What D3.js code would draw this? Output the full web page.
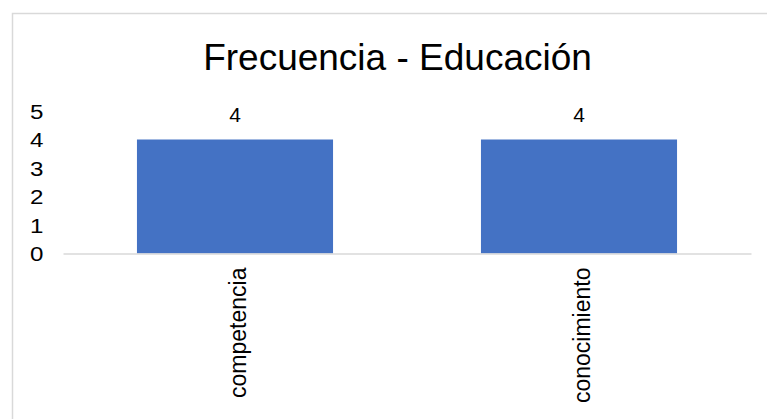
<!DOCTYPE html>
<html>
<head>
<meta charset="utf-8">
<script src="https://cdn.jsdelivr.net/npm/d3@7"></script>
<style>
  html, body { margin: 0; padding: 0; background: #fff; }
  svg { display: block; font-family: "Liberation Sans", Arial, sans-serif; }
</style>
</head>
<body>
<svg id="chart" width="767" height="419"></svg>
<script>
const title = "Frecuencia - Educación";
const categories = ["competencia", "conocimiento"];
const values = [4, 4];
const yTicks = [0, 1, 2, 3, 4, 5];

const svg = d3.select("#chart");

// chart frame
svg.append("rect")
  .attr("x", 12.5).attr("y", 13.5)
  .attr("width", 800).attr("height", 450)
  .attr("fill", "#fff").attr("stroke", "#d9d9d9").attr("stroke-width", 1.5);

const x = d3.scaleBand().domain(categories).range([63, 751])
  .paddingInner(0.43).paddingOuter(0.215);
const y = d3.scaleLinear().domain([0, 5]).range([253.5, 111]);

// title
svg.append("text")
  .attr("x", 397.5).attr("y", 70)
  .attr("text-anchor", "middle")
  .attr("font-size", 37)
  .attr("fill", "#000")
  .text(title);

// y axis labels
const yAxis = d3.axisLeft(y).tickValues(yTicks).tickSize(0).tickPadding(0).tickFormat(d3.format("d"));
const gy = svg.append("g").attr("transform", "translate(43.5,0)").call(yAxis);
gy.select(".domain").remove();
gy.selectAll("text").attr("font-size", 21).attr("fill", "#000")
  .attr("font-family", "'Liberation Sans', Arial, sans-serif")
  .attr("transform", "scale(1.15,1)").attr("dy", "0.34em");

// bars
svg.append("g").selectAll("rect").data(values).join("rect")
  .attr("x", (d, i) => x(categories[i]))
  .attr("y", d => y(d))
  .attr("width", x.bandwidth())
  .attr("height", d => y(0) - y(d))
  .attr("fill", "#4472c4");

// x axis baseline + labels
const xAxis = d3.axisBottom(x).tickSize(0).tickPadding(0);
const gx = svg.append("g").attr("transform", `translate(0,${y(0)})`).call(xAxis);
gx.select(".domain").attr("stroke", "#d9d9d9").attr("stroke-width", 1.5);
gx.selectAll(".tick text")
  .attr("font-size", 23).attr("fill", "#000")
  .attr("font-family", "'Liberation Sans', Arial, sans-serif")
  .attr("text-anchor", "end")
  .attr("transform", "translate(11,14) rotate(-90)")
  .attr("x", 0).attr("y", 0).attr("dy", 0);

// data labels
svg.append("g").selectAll("text").data(values).join("text")
  .attr("x", (d, i) => x(categories[i]) + x.bandwidth() / 2)
  .attr("y", d => y(d) - 18)
  .attr("text-anchor", "middle")
  .attr("font-size", 21)
  .attr("fill", "#000")
  .text(d => d);
</script>
</body>
</html>
